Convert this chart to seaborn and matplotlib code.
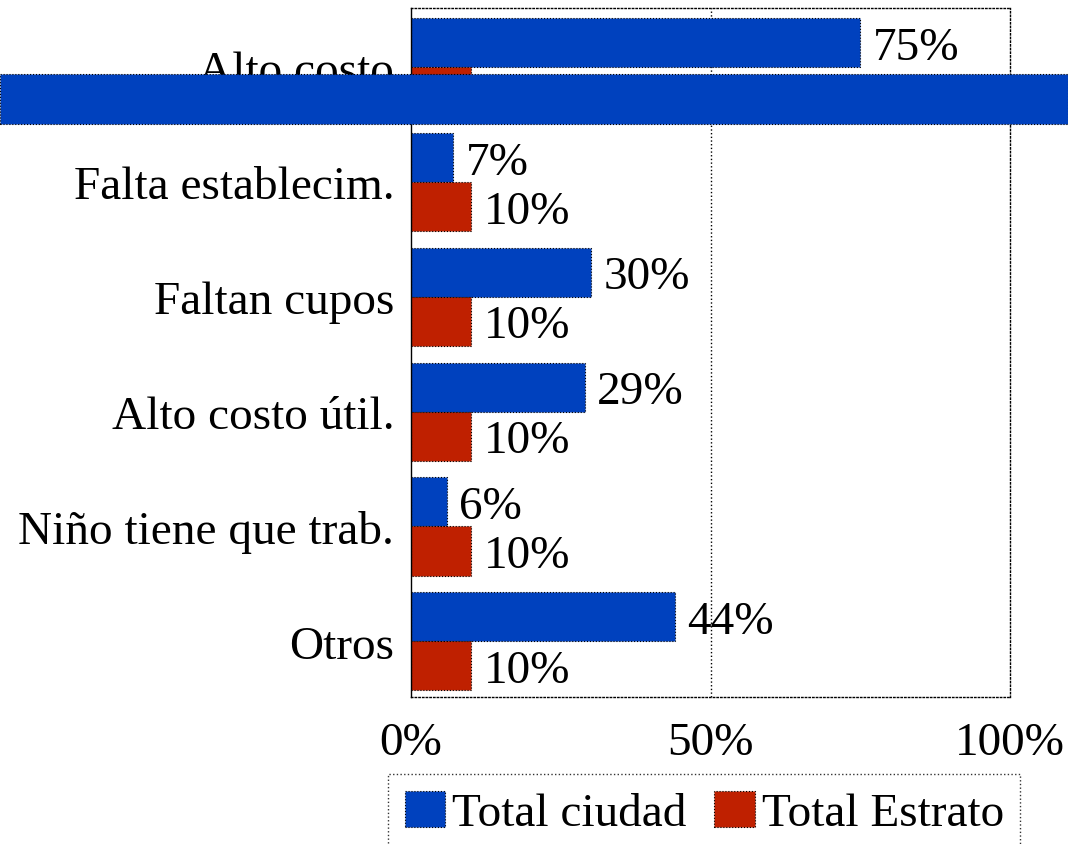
import matplotlib
matplotlib.use("Agg")
import matplotlib.pyplot as plt
from matplotlib.patches import Rectangle
import pandas as pd
import seaborn as sns

categories = ["Alto costo", "Falta establecim.", "Faltan cupos",
              "Alto costo útil.", "Niño tiene que trab.", "Otros"]
total_ciudad = [75, 7, 30, 29, 6, 44]
total_estrato = [10, 10, 10, 10, 10, 10]
series_names = ["Total ciudad", "Total Estrato"]
x_ticks = [0, 50, 100]
x_tick_labels = ["0%", "50%", "100%"]

BLUE = "#0041BE"
RED = "#BF2000"

df = pd.DataFrame({
    "motivo": categories * 2,
    "valor": total_ciudad + total_estrato,
    "serie": [series_names[0]] * len(categories) + [series_names[1]] * len(categories),
})

sns.set_style("white")
plt.rcParams["font.family"] = ["Liberation Serif", "DejaVu Serif"]
plt.rcParams["text.color"] = "black"
plt.rcParams["xtick.color"] = "black"
plt.rcParams["ytick.color"] = "black"
plt.rcParams["axes.labelcolor"] = "black"
FS = 34

fig = plt.figure(figsize=(10.68, 8.45), dpi=100)
ax = fig.add_axes([411 / 1068, 1 - 698 / 845, (1010 - 411) / 1068, (698 - 9) / 845])

sns.barplot(data=df, y="motivo", x="valor", hue="serie", orient="h",
            palette=[BLUE, RED], saturation=1, width=0.855, ax=ax, legend=False,
            edgecolor="black", linewidth=0.8, linestyle=":")

ax.set_xlim(0, 100)
ax.set_ylim(len(categories) - 0.5 - 0.015, -0.5 - 0.015)
ax.set_xticks(x_ticks)
ax.set_xticklabels(x_tick_labels, fontsize=FS)
ax.tick_params(axis="x", length=0, pad=18, labelcolor="black")
ax.tick_params(axis="y", length=0, pad=12, labelsize=FS, labelcolor="black")
ax.set_xlabel("")
ax.set_ylabel("")

ax.axvline(50, color="black", linestyle=":", linewidth=1.0, zorder=0)
for side in ["top", "right", "bottom"]:
    ax.spines[side].set_linestyle(":")
    ax.spines[side].set_color("black")
    ax.spines[side].set_linewidth(1.0)
ax.spines["left"].set_color("black")
ax.spines["left"].set_linewidth(1.0)

for container in ax.containers:
    labels = ax.bar_label(container, labels=[f"{v:.0f}%" for v in container.datavalues],
                          padding=9, fontsize=FS, color="black")
    # nudge the value labels so the digits sit centred on the bars
    for lab in labels:
        lab.xyann = (9, -3.5)

handles = [Rectangle((0, 0), 1, 1, facecolor=BLUE, edgecolor="black", linewidth=0.8, linestyle=":"),
           Rectangle((0, 0), 1, 1, facecolor=RED, edgecolor="black", linewidth=0.8, linestyle=":")]
leg = fig.legend(handles, series_names, loc="upper left",
                 bbox_to_anchor=(388 / 1068, 1 - 775 / 845),
                 bbox_transform=fig.transFigure, ncol=2, fontsize=FS,
                 frameon=True, fancybox=False, borderpad=0.35,
                 handlelength=0.85, handleheight=0.8, handletextpad=0.15,
                 columnspacing=0.6, borderaxespad=0, labelcolor="black")
leg.get_frame().set_edgecolor("black")
leg.get_frame().set_linestyle(":")
leg.get_frame().set_linewidth(1.0)

# Horizontal band drawn across the whole figure over the first category
band = Rectangle((0, 1 - 125 / 845), 1, 50 / 845, transform=fig.transFigure,
                 facecolor=BLUE, edgecolor="black", linewidth=0.8, linestyle=":",
                 zorder=10)
fig.add_artist(band)

fig.savefig("out.png", dpi=100)
